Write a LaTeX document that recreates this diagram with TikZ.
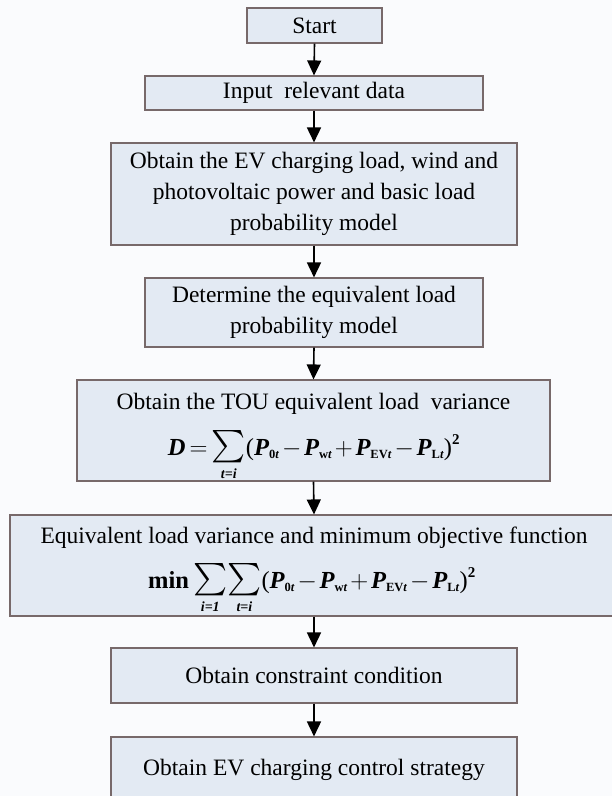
\documentclass[tikz,border=0pt]{standalone}
\usepackage{amsmath}
\usepackage{graphicx}
\usepackage{fontspec}
\setmainfont{Liberation Serif}
\usetikzlibrary{arrows.meta}
\definecolor{bg}{HTML}{FAFBFD}
\definecolor{boxfill}{HTML}{E3EAF3}
\definecolor{boxline}{HTML}{77696A}
\newcommand{\bi}[1]{\text{\bfseries\itshape #1}}
\newcommand{\bs}[1]{\text{\bfseries #1}}
\newcommand{\tp}[1]{\text{#1}}
\newcommand{\subx}[2]{\text{\fontsize{12.5}{12.5}\selectfont\bfseries #1\itshape #2}}
\newcommand{\limx}[1]{\text{\fontsize{14}{14}\selectfont\bfseries\itshape #1}}
\newcommand{\supx}{\text{\fontsize{15}{15}\selectfont\bfseries 2}}
\newcommand{\bigsum}{\mathop{\scalebox{1.3}{$\textstyle\sum$}}\limits}
\newcommand{\tightmath}{\medmuskip=2mu\relax\thickmuskip=3mu\relax}
\newcommand{\sumbody}{\tp{(}\bi{P}_{\subx{0}{t}}-\bi{P}_{\subx{w}{t}}+\bi{P}_{\subx{EV}{t}}-\bi{P}_{\subx{L}{t}}\tp{)}^{\supx}}
\tikzset{
  flowbox/.style={draw=boxline, line width=1.1pt, fill=boxfill, inner sep=0pt,
    align=center, font=\fontsize{23.5}{31}\selectfont},
  boxtext/.style={inner sep=0pt, anchor=base, font=\fontsize{23.5}{31}\selectfont},
  formula/.style={inner sep=0pt, anchor=base, font=\fontsize{24.5}{30}\selectfont},
  flowarrow/.style={line width=1.6pt, -{Triangle[width=14pt,length=15pt]}}
}
\begin{document}
\begin{tikzpicture}[x=1pt,y=-1pt]
\fill[bg] (0,0) rectangle (612,796);
\useasboundingbox (0,0) rectangle (612,796);
\node[flowbox, minimum width=135pt, minimum height=35pt] (n1) at (314.5,25.5) {Start};
\node[flowbox, minimum width=338pt, minimum height=34pt] (n2) at (314,93) {Input\ \ relevant data};
\node[flowbox, minimum width=406pt, minimum height=102pt] (n3) at (314,194)
  {Obtain the EV charging load, wind and\\ photovoltaic power and basic load\\ probability model};
\node[flowbox, minimum width=338pt, minimum height=69pt] (n4) at (314,312.5)
  {Determine the equivalent load\\ probability model};
\node[flowbox, minimum width=473pt, minimum height=101pt] (n5) at (313.5,430.5) {};
\node[boxtext] (n5t) at (313.5,409) {Obtain the TOU equivalent load\ \ variance};
\node[formula] (n5f) at (314,455)
  {$\tightmath\bi{D}=\bigsum_{\limx{t=i}}\!\sumbody$};
\node[flowbox, minimum width=608pt, minimum height=101pt] (n6) at (314,565.5) {};
\node[boxtext] (n6t) at (314,543) {Equivalent load variance and minimum objective function};
\node[formula] (n6f) at (312,588)
  {$\tightmath\bs{min}\bigsum_{\limx{i=1}}\!\bigsum_{\limx{t=i}}\!\sumbody$};
\node[flowbox, minimum width=406pt, minimum height=55pt] (n7) at (314,675.5) {Obtain constraint condition};
\node[flowbox, minimum width=406pt, minimum height=66pt] (n8) at (314,770) {Obtain EV charging control strategy};
\foreach \a/\b in {n1/n2,n2/n3,n3/n4,n4/n5,n5/n6,n6/n7,n7/n8}
  \draw[flowarrow] (\a.south) -- (\b.north);
\end{tikzpicture}
\end{document}
